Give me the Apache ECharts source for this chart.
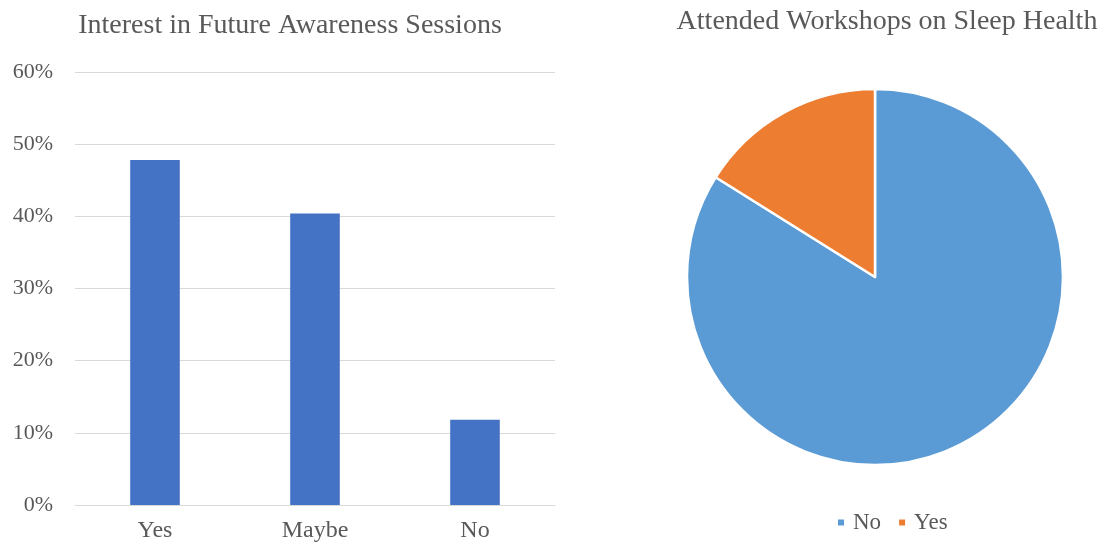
<!DOCTYPE html>
<html>
<head>
<meta charset="utf-8">
<script src="https://cdn.jsdelivr.net/npm/echarts@6/dist/echarts.min.js"></script>
<style>
  html, body { margin: 0; padding: 0; background: #fff; }
  #chart { width: 1100px; height: 543px; }
</style>
</head>
<body>
<div id="chart"></div>
<script>
// Interest in future sessions (share of respondents, %)
const interestCategories = ['Yes', 'Maybe', 'No'];
const interestValues = [47.8, 40.4, 11.8];
const interestTicks = [0, 10, 20, 30, 40, 50, 60];

// Attendance at sleep-health workshops (share of respondents, %)
const workshopLabels = ['No', 'Yes'];
const workshopValues = [83.9, 16.1];

const FONT = '"Liberation Serif", "Times New Roman", serif';
const TEXT = '#595959';

const chart = echarts.init(document.getElementById('chart'));
chart.setOption({
  animation: false,
  textStyle: { fontFamily: FONT },
  title: [
    {
      text: 'Interest in Future Awareness Sessions',
      left: 285, top: 7, textAlign: 'center',
      textStyle: { fontFamily: FONT, fontSize: 28, fontWeight: 'normal', color: TEXT }
    },
    {
      text: 'Attended Workshops on Sleep Health',
      left: 882, top: 3, textAlign: 'center',
      textStyle: { fontFamily: FONT, fontSize: 28, fontWeight: 'normal', color: TEXT }
    }
  ],
  grid: { left: 75, right: 545, top: 72, bottom: 38, containLabel: false },
  xAxis: {
    type: 'category',
    data: interestCategories,
    axisLine: { show: true, lineStyle: { color: '#d9d9d9', width: 1 } },
    axisTick: { show: false },
    axisLabel: { color: TEXT, fontFamily: FONT, fontSize: 24, margin: 14 }
  },
  yAxis: {
    type: 'value',
    min: interestTicks[0],
    max: interestTicks[interestTicks.length - 1],
    interval: 10,
    axisLine: { show: false },
    axisTick: { show: false },
    splitLine: { lineStyle: { color: '#d9d9d9', width: 1 } },
    axisLabel: { color: TEXT, fontFamily: FONT, fontSize: 22, margin: 22, formatter: '{value}%' }
  },
  legend: {
    data: workshopLabels,
    left: 831, top: 506,
    icon: 'rect', itemWidth: 8, itemHeight: 8, itemGap: 16,
    textStyle: { color: TEXT, fontFamily: FONT, fontSize: 23, padding: [0, 0, 0, 3] }
  },
  series: [
    {
      type: 'bar',
      data: interestValues,
      barWidth: '31%',
      itemStyle: { color: '#4472C4' }
    },
    {
      type: 'pie',
      center: [875, 277],
      radius: 188,
      startAngle: 90,
      clockwise: true,
      label: { show: false },
      labelLine: { show: false },
      itemStyle: { borderColor: '#fff', borderWidth: 2.5 },
      data: workshopLabels.map((name, i) => ({
        name,
        value: workshopValues[i],
        itemStyle: { color: i === 0 ? '#5B9BD5' : '#ED7D31' }
      }))
    }
  ]
});
</script>
</body>
</html>
